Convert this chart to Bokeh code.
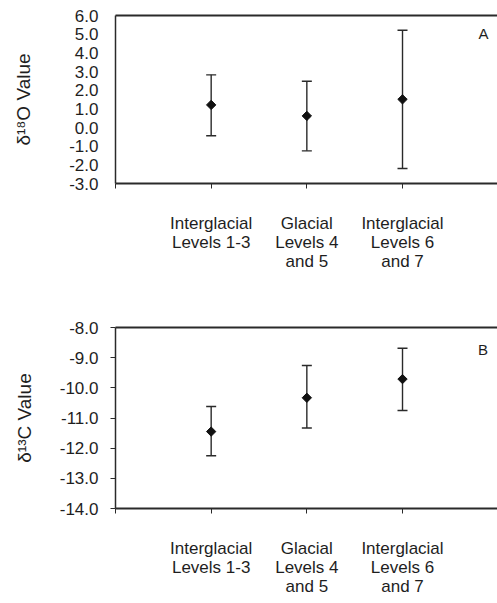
import math
from bokeh.plotting import figure
from bokeh.models import (Range1d, FixedTicker, LinearAxis, Label, Whisker,
                          TeeHead, ColumnDataSource)
from bokeh.layouts import column
from bokeh.embed import file_html
from bokeh.resources import INLINE

# ---------------- data ----------------
categories = ["Interglacial\nLevels 1-3", "Glacial\nLevels 4\nand 5",
              "Interglacial\nLevels 6\nand 7"]
cat_pos = [1, 2, 3]

o18_mean = [1.21, 0.62, 1.51]
o18_upper = [2.82, 2.48, 5.21]
o18_lower = [-0.44, -1.25, -2.20]

c13_mean = [-11.45, -10.33, -9.71]
c13_upper = [-10.62, -9.26, -8.69]
c13_lower = [-12.25, -11.33, -10.75]

o18_ticks = [-3, -2, -1, 0, 1, 2, 3, 4, 5, 6]
o18_tick_labels = ["-3.0", "-2.0", "-1.0", "0.0", "1.0", "2.0", "3.0", "4.0", "5.0", "6.0"]
c13_ticks = [-14, -13, -12, -11, -10, -9, -8]
c13_tick_labels = ["-14.0", "-13.0", "-12.0", "-11.0", "-10.0", "-9.0", "-8.0"]

o18_title = "δ¹⁸O Value"
c13_title = "δ¹³C Value"

# ---------------- style ----------------
FONT = "Liberation Sans"
TXT = "#1e1e1e"
LINE = "#2a2a2a"
PAGE_W = 497
BORDER_LEFT = 115
FRAME_W = PAGE_W - BORDER_LEFT
PX_PER_CAT = 95.67
X_END = FRAME_W / PX_PER_CAT


def make_panel(mean, upper, lower, ticks, tick_labels, y0, y1, h, page_top,
               top, bottom, y_ticks_out, std_x, title, title_std,
               letter, letter_pos):
    p = figure(width=PAGE_W, height=h, output_backend="svg", toolbar_location=None,
               x_range=Range1d(0, X_END), y_range=Range1d(y0, y1),
               min_border_left=BORDER_LEFT, min_border_right=0,
               min_border_top=top, min_border_bottom=bottom)
    p.outline_line_color = None
    p.xgrid.visible = False
    p.ygrid.visible = False

    frame_h = h - top - bottom

    def to_data(px, py):
        x = (px - BORDER_LEFT) / FRAME_W * X_END
        y = y1 - (py - page_top - top) / frame_h * (y1 - y0)
        return x, y

    ya = p.yaxis[0]
    ya.ticker = FixedTicker(ticks=ticks)
    ya.major_label_overrides = {float(t): l for t, l in zip(ticks, tick_labels)}
    ya.minor_tick_line_color = None
    ya.axis_line_width = 1.5
    ya.axis_line_color = LINE
    ya.major_tick_line_color = LINE if y_ticks_out else None
    ya.major_tick_out = y_ticks_out
    ya.major_tick_in = 0
    ya.major_label_standoff = 17 - y_ticks_out
    ya.major_label_text_font = FONT
    ya.major_label_text_font_size = "17px"
    ya.major_label_text_color = TXT
    ya.axis_label = title
    ya.axis_label_text_font = FONT
    ya.axis_label_text_font_size = "19px"
    ya.axis_label_text_font_style = "normal"
    ya.axis_label_text_color = TXT
    ya.axis_label_standoff = title_std

    xa = p.xaxis[0]
    xa.ticker = FixedTicker(ticks=[0] + cat_pos)
    ov = {0.0: ""}
    for c, lab in zip(cat_pos, categories):
        ov[float(c)] = lab
    xa.major_label_overrides = ov
    xa.minor_tick_line_color = None
    xa.axis_line_width = 2
    xa.axis_line_color = LINE
    xa.major_tick_line_color = LINE
    xa.major_tick_out = 5
    xa.major_tick_in = 0
    xa.major_label_standoff = std_x
    xa.major_label_text_font = FONT
    xa.major_label_text_font_size = "17px"
    xa.major_label_text_color = TXT
    xa.major_label_text_align = "center"
    xa.major_label_text_line_height = 1.0

    ta = LinearAxis(ticker=FixedTicker(ticks=[]), axis_line_width=2,
                    axis_line_color=LINE, major_tick_line_color=None,
                    minor_tick_line_color=None, major_tick_out=0,
                    major_label_standoff=0, major_label_text_font_size="0px")
    p.add_layout(ta, "above")

    src = ColumnDataSource(dict(x=cat_pos, m=mean, hi=upper, lo=lower))
    p.add_layout(Whisker(source=src, base="x", upper="hi", lower="lo",
                         dimension="height", line_color=LINE, line_width=1.4,
                         upper_head=TeeHead(size=10, line_color=LINE, line_width=1.4),
                         lower_head=TeeHead(size=10, line_color=LINE, line_width=1.4)))
    p.scatter("x", "m", source=src, marker="square", size=6.6,
              angle=math.pi / 4, fill_color="#111111", line_color="#111111")

    x, y = to_data(*letter_pos)
    p.add_layout(Label(x=x, y=y, text=letter, text_font=FONT,
                       text_font_size="15px", text_color=TXT,
                       text_align="center", text_baseline="alphabetic"))
    return p


H1 = 293
H2 = 310

p1 = make_panel(o18_mean, o18_upper, o18_lower, o18_ticks, o18_tick_labels,
                -3, 6, H1, 0, 15, 110, 0, 25, o18_title, 32, "A", (483, 33))
p2 = make_panel(c13_mean, c13_upper, c13_lower, c13_ticks, c13_tick_labels,
                -14, -8, H2, H1, 34, 95, 5, 25, c13_title, 22, "B", (482.5, 349))

layout = column(p1, p2, spacing=0)
open("out.html", "w").write(file_html(layout, INLINE))
